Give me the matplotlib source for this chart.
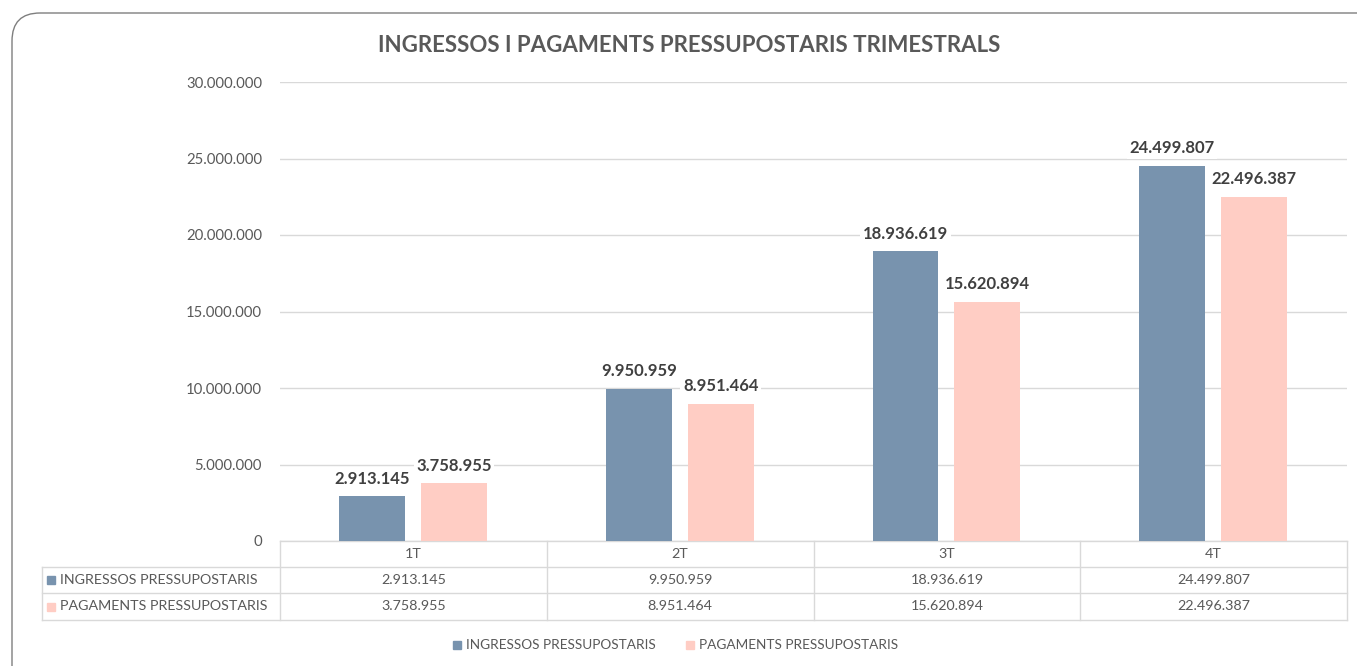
import matplotlib.pyplot as plt
from matplotlib.patches import FancyBboxPatch, Rectangle
from matplotlib.ticker import FuncFormatter

plt.rcParams['font.family'] = ['Lato', 'DejaVu Sans']

trimestres = ["1T", "2T", "3T", "4T"]
ingressos = [2913145, 9950959, 18936619, 24499807]
pagaments = [3758955, 8951464, 15620894, 22496387]
series_names = ["INGRESSOS PRESSUPOSTARIS", "PAGAMENTS PRESSUPOSTARIS"]
colors = ["#7893AE", "#FFCDC4"]
title = "INGRESSOS I PAGAMENTS PRESSUPOSTARIS TRIMESTRALS"

W, H = 1357, 666


def fmt(v):
    return f"{int(v):,}".replace(",", ".")


fig = plt.figure(figsize=(W / 100, H / 100), dpi=100)

# overlay in pixel coords for border, title, table and legend
ov = fig.add_axes([0, 0, 1, 1], zorder=0)
ov.set_xlim(0, W)
ov.set_ylim(H, 0)
ov.axis("off")
ov.add_patch(FancyBboxPatch((12, 13), W + 40, H + 40, boxstyle="round,pad=0,rounding_size=28",
                            fill=False, ec="#7F7F7F", lw=1.0))
ov.text(689, 45, title, ha="center", va="center", fontsize=16, fontweight="bold", color="#595959")

# plot area
x0, x1, ytop, ybot = 280, 1347, 82, 541
ax = fig.add_axes([x0 / W, 1 - ybot / H, (x1 - x0) / W, (ybot - ytop) / H], zorder=1)
ax.patch.set_alpha(0)
pos = list(range(len(trimestres)))
bw = 0.247
b1 = ax.bar([p - 0.155 for p in pos], ingressos, bw, color=colors[0], zorder=2)
b2 = ax.bar([p + 0.152 for p in pos], pagaments, bw, color=colors[1], zorder=2)
ax.set_xlim(-0.5, len(trimestres) - 0.5)
ax.set_ylim(0, 30000000)
ax.set_yticks(range(0, 30000001, 5000000))
ax.yaxis.set_major_formatter(FuncFormatter(lambda v, p: fmt(v)))
ax.tick_params(axis="y", length=0, pad=13, labelsize=10.7, labelcolor="#595959")
ax.set_xticks([])
ax.grid(axis="y", color="#D9D9D9", lw=1, zorder=0)
for s in ax.spines.values():
    s.set_visible(False)

for bars in (b1, b2):
    for b in bars:
        ax.annotate(fmt(b.get_height()), (b.get_x() + b.get_width() / 2, b.get_height()),
                    xytext=(0, 7), textcoords="offset points", ha="center", va="bottom",
                    fontsize=12, fontweight="bold", color="#404040", zorder=3,
                    bbox=dict(boxstyle="square,pad=0.15", fc="white", ec="none"))

# data table
lc = "#D9D9D9"
tc = "#595959"
rows = [541, 567, 593, 620]
colw = (x1 - x0) / len(trimestres)
ov.plot([x0, x1], [rows[0]] * 2, color=lc, lw=1)
for r in rows[1:]:
    ov.plot([42, x1], [r, r], color=lc, lw=1)
ov.plot([42, 42], [rows[1], rows[3]], color=lc, lw=1)
for i in range(len(trimestres) + 1):
    xx = x0 + i * colw
    ov.plot([xx, xx], [rows[0], rows[3]], color=lc, lw=1)
for i, t in enumerate(trimestres):
    cx = x0 + (i + 0.5) * colw
    ov.text(cx, (rows[0] + rows[1]) / 2, t, ha="center", va="center", fontsize=10.3, color=tc)
    ov.text(cx, (rows[1] + rows[2]) / 2, fmt(ingressos[i]), ha="center", va="center", fontsize=10.3, color=tc)
    ov.text(cx, (rows[2] + rows[3]) / 2, fmt(pagaments[i]), ha="center", va="center", fontsize=10.3, color=tc)
for j, name in enumerate(series_names):
    cy = (rows[j + 1] + rows[j + 2]) / 2
    ov.add_patch(Rectangle((47, cy - 4), 8, 8, color=colors[j]))
    ov.text(60, cy, name, ha="left", va="center", fontsize=10.3, color=tc)

# legend
leg = [(453, series_names[0]), (686, series_names[1])]
for j, (lx, name) in enumerate(leg):
    ov.add_patch(Rectangle((lx, 641), 8, 8, color=colors[j]))
    ov.text(lx + 13, 645, name, ha="left", va="center", fontsize=9.8, color=tc)

fig.savefig("out.png", dpi=100)
